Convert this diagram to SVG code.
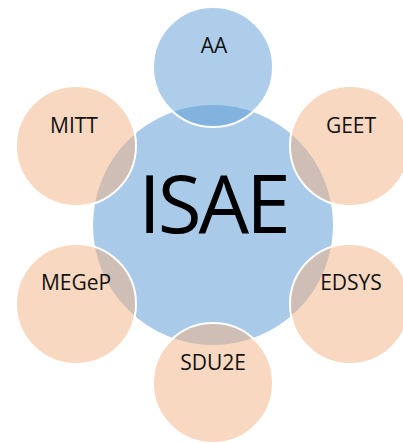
<svg xmlns="http://www.w3.org/2000/svg" width="403" height="443" viewBox="0 0 403 443">
<style>
.center{fill:#A9CAE8;}
.sat{fill:#F4B183;fill-opacity:0.5;stroke:#FFFFFF;stroke-width:2;}
.sat-blue{fill:#5B9BD5;fill-opacity:0.5;stroke:#FFFFFF;stroke-width:2;}
.lbl{font-family:"Open Sans","Liberation Sans",sans-serif;font-size:21px;fill:#111111;text-anchor:middle;}
.big{font-family:"Open Sans","Liberation Sans",sans-serif;font-size:80px;fill:#000000;text-anchor:middle;letter-spacing:-3px;}
</style>
<rect width="403" height="443" fill="#FFFFFF"/>
<g id="ISAE">
<circle class="center" cx="213" cy="225" r="120"/>
<text class="big" x="213" y="233">ISAE</text>
</g>
<g id="AA">
<circle class="sat-blue" cx="213" cy="67" r="60"/>
<text class="lbl" x="214" y="53">AA</text>
</g>
<g id="GEET">
<circle class="sat" cx="350" cy="146" r="60"/>
<text class="lbl" x="351" y="133">GEET</text>
</g>
<g id="EDSYS">
<circle class="sat" cx="350" cy="304" r="60"/>
<text class="lbl" x="351" y="290">EDSYS</text>
</g>
<g id="SDU2E">
<circle class="sat" cx="213" cy="383" r="60"/>
<text class="lbl" x="213" y="370">SDU2E</text>
</g>
<g id="MEGeP">
<circle class="sat" cx="76" cy="304" r="60"/>
<text class="lbl" x="76" y="290">MEGeP</text>
</g>
<g id="MITT">
<circle class="sat" cx="76" cy="146" r="60"/>
<text class="lbl" x="74" y="133">MITT</text>
</g>
</svg>
